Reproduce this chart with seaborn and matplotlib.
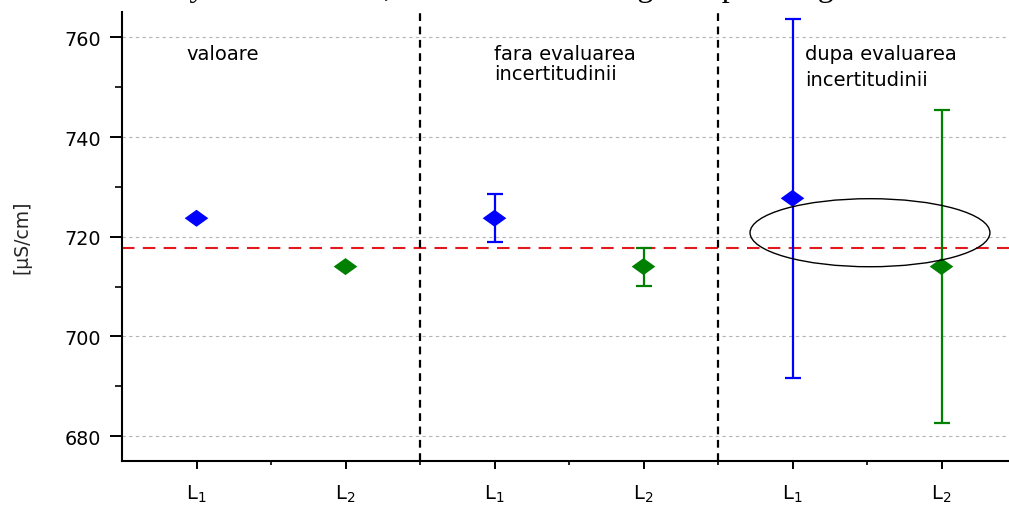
import numpy as np
import pandas as pd
import matplotlib
matplotlib.use("Agg")
import matplotlib.pyplot as plt
from matplotlib.patches import Ellipse
from matplotlib.path import Path
import seaborn as sns

# ---------------- data ----------------
tick_labels = ["L$_1$", "L$_2$", "L$_1$", "L$_2$", "L$_1$", "L$_2$"]
labs = ["L1", "L2", "L1", "L2", "L1", "L2"]
groups = ["valoare", "valoare", "fara", "fara", "dupa", "dupa"]
values = [723.7, 714.0, 723.7, 714.0, 727.7, 714.0]
uncert = [0.0, 0.0, 4.8, 3.8, 36.0, 31.4]
reference_value = 717.8
section_titles = ["valoare", "fara evaluarea\nincertitudinii", "dupa evaluarea\nincertitudinii"]
y_major = [680, 700, 720, 740, 760]
y_minor = [690, 710, 730, 750]
ylabel = "[µS/cm]"
header_text = "ated uncertainty of all sources, ce characteristic a good spreading of the obtained"

palette = {"L1": "#0000ff", "L2": "#008000"}

# ---------------- style ----------------
sns.set_theme(style="white")
plt.rcParams["font.family"] = ["DejaVu Sans"]
plt.rcParams["mathtext.default"] = "regular"

W, H = 1009, 506
fig = plt.figure(figsize=(W / 100, H / 100), dpi=100)
fig.patch.set_facecolor("white")
ax = fig.add_axes([122 / W, 44 / H, 894 / W, 448.6 / H])
ax.set_facecolor("white")

pos = np.arange(1, len(values) + 1)
df = pd.DataFrame({"x": pos, "y": values, "lab": labs, "err": uncert, "grp": groups})

# grid
ax.set_axisbelow(True)
ax.yaxis.grid(True, which="major", linestyle=(0, (3, 3)), color="#b4b4b4", lw=0.8)
ax.xaxis.grid(False)

# error bars
for _, r in df.iterrows():
    if r["err"] > 0:
        ax.errorbar(r["x"], r["y"], yerr=r["err"], fmt="none", ecolor=palette[r["lab"]],
                    elinewidth=1.6, capsize=6, capthick=1.6, zorder=3)

# diamond markers (wide)
diamond = Path([(-1, 0), (0, 0.72), (1, 0), (0, -0.72), (-1, 0)],
               [Path.MOVETO, Path.LINETO, Path.LINETO, Path.LINETO, Path.CLOSEPOLY])
sns.scatterplot(data=df, x="x", y="y", hue="lab", palette=palette, marker=diamond,
                s=290, linewidth=0, edgecolor="none", legend=False, ax=ax, zorder=4)

# reference line
ax.axhline(reference_value, color="#e3171c", ls=(0, (6, 4)), lw=1.5, zorder=2)

# section separators
n_per = 2
for b in np.arange(n_per, len(values), n_per) + 0.5:
    ax.axvline(b, color="black", ls=(0, (3.5, 2.5)), lw=1.6, zorder=2)

# ellipse highlight
ax.add_patch(Ellipse((5.52, 720.8), width=1.61, height=13.65, fill=False,
                     ec="black", lw=1.0, zorder=5))

# section titles
title_x = [0.931, 3.0, 5.087]
title_ls = [1.1, 1.05, 1.46]
for tx, t, ls in zip(title_x, section_titles, title_ls):
    ax.text(tx, 758.7, t, fontsize=14, va="top", ha="left", linespacing=ls, color="black")

# axes
ax.set_xlim(0.5, 6.5)
ax.set_ylim(675, 765)
ax.set_xticks(pos)
ax.set_xticklabels(tick_labels)
ax.set_xticks(np.arange(1.5, 7, 1.0), minor=True)
ax.set_yticks(y_major)
ax.set_yticks(y_minor, minor=True)
ax.set_xlabel("")
ax.set_ylabel(ylabel, fontsize=13.5)
ax.yaxis.set_label_coords(-0.101, 0.5)

for s in ["top", "right"]:
    ax.spines[s].set_visible(False)
for s in ["left", "bottom"]:
    ax.spines[s].set_color("black")
    ax.spines[s].set_linewidth(1.5)

ax.tick_params(axis="y", which="major", direction="out", length=8.6, width=1.4,
               labelsize=13.8, pad=6.5, colors="black", left=True)
ax.tick_params(axis="y", which="minor", direction="out", length=5, width=1.4, left=True)
ax.tick_params(axis="x", which="major", direction="out", length=5.8, width=1.4,
               labelsize=14, pad=10, colors="black", bottom=True)
ax.tick_params(axis="x", which="minor", direction="out", length=2.9, width=1.4, bottom=True)

# clipped document text at the very top
fig.text(0.0, 1.007, header_text, fontsize=23, family=["Liberation Serif"],
         ha="left", va="baseline", color="black")

fig.savefig("out.png", dpi=100, facecolor="white")
